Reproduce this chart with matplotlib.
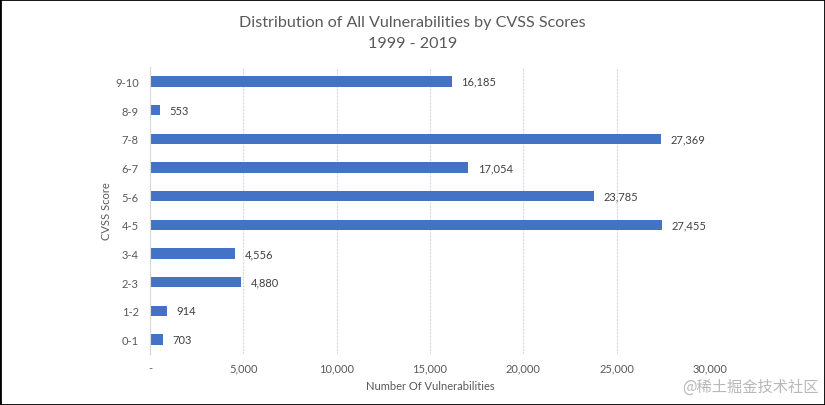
import matplotlib.pyplot as plt
from matplotlib.patches import Rectangle
from matplotlib.ticker import FuncFormatter

scores = ["0-1", "1-2", "2-3", "3-4", "4-5", "5-6", "6-7", "7-8", "8-9", "9-10"]
counts = [703, 914, 4880, 4556, 27455, 23785, 17054, 27369, 553, 16185]
x_ticks = [0, 5000, 10000, 15000, 20000, 25000, 30000]

bar_color = "#4472C4"
text_color = "#595959"
font = ["Lato", "DejaVu Sans"]

fig = plt.figure(figsize=(8.25, 4.06), dpi=100)
ax = fig.add_axes([150 / 825, 1 - 355 / 406, 560 / 825, 287 / 406])

pos = range(len(scores))
ax.barh(pos, counts, height=0.36, color=bar_color, zorder=3)
for p, c in zip(pos, counts):
    ax.text(c + 500, p, "{:,}".format(c), va="center", ha="left",
            fontsize=8, color="#404040", family=font)

ax.set_xlim(0, 30000)
ax.set_ylim(-0.5, len(scores) - 0.5)
ax.set_yticks(list(pos))
ax.set_yticklabels(scores)
ax.set_xticks(x_ticks)
ax.xaxis.set_major_formatter(FuncFormatter(lambda v, _: "-" if v == 0 else "{:,}".format(int(v))))
ax.tick_params(length=0, labelsize=8, colors=text_color, pad=8)
ax.tick_params(axis="x", pad=6)
for lbl in ax.get_xticklabels() + ax.get_yticklabels():
    lbl.set_family(font)

ax.grid(axis="x", color="#d9d9d9", linestyle=(0, (2, 1)), linewidth=0.8, zorder=0)
for s in ["top", "right", "bottom"]:
    ax.spines[s].set_visible(False)
ax.spines["left"].set_color("#d9d9d9")
ax.spines["left"].set_zorder(4)

ax.set_xlabel("Number Of Vulnerabilities", fontsize=8, color=text_color, family=font, labelpad=5)
ax.set_ylabel("CVSS Score", fontsize=8, color=text_color, family=font, labelpad=2)

fig.text(0.5, 1 - 23 / 406, "Distribution of All Vulnerabilities by CVSS Scores",
         ha="center", va="center", fontsize=11.6, color=text_color, family=font)
fig.text(0.5, 1 - 44 / 406, "1999 - 2019",
         ha="center", va="center", fontsize=11.6, color=text_color, family=font)

fig.text(819 / 825, 1 - 387 / 406, "@稀土掘金技术社区", ha="right", va="center",
         fontsize=11, color="#b8b8b8", family=["Noto Sans CJK SC", "DejaVu Sans"])

fig.patches.append(Rectangle((0, 0), 1, 1, transform=fig.transFigure, fill=False,
                             edgecolor="black", linewidth=2))

fig.savefig("out.png", dpi=100)
